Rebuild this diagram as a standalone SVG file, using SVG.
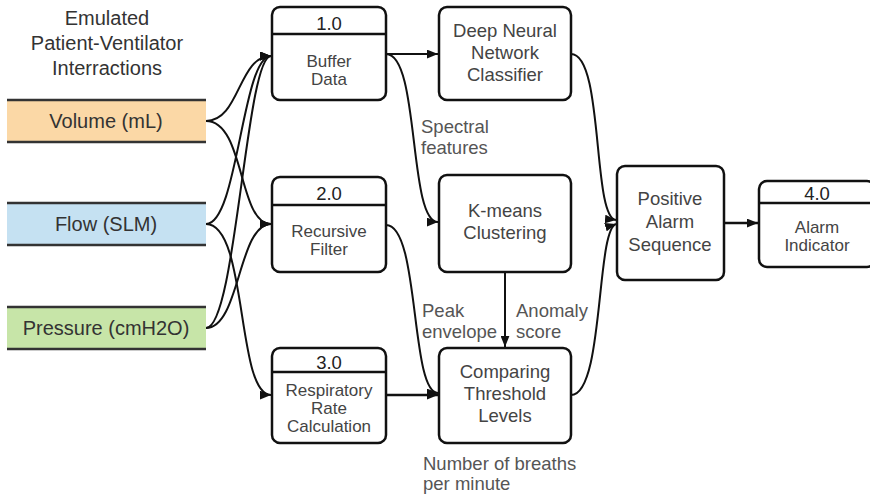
<svg xmlns="http://www.w3.org/2000/svg" width="870" height="496" viewBox="0 0 870 496">
<style>
.box{fill:#fff;stroke:#111;stroke-width:2.5}
.div{stroke:#111;stroke-width:2.5}
.t{font-family:"Liberation Sans",Arial,sans-serif;font-size:18.5px;fill:#444;text-anchor:middle}
.s{font-family:"Liberation Sans",Arial,sans-serif;font-size:17px;fill:#444;text-anchor:middle}
.n{font-family:"Liberation Sans",Arial,sans-serif;font-size:18.5px;fill:#222;text-anchor:middle}
.in{font-family:"Liberation Sans",Arial,sans-serif;font-size:20px;fill:#333;text-anchor:middle}
.lbl{font-family:"Liberation Sans",Arial,sans-serif;font-size:18.5px;fill:#555}
.edge{fill:none;stroke:#111;stroke-width:2;marker-end:url(#ah)}
.bar{stroke:#333;stroke-width:2.5}
</style>
<defs>
<marker id="ah" viewBox="0 0 10 8" refX="10" refY="4" markerWidth="11" markerHeight="9" markerUnits="userSpaceOnUse" orient="auto">
<path d="M0,0 L10,4 L0,8 z" fill="#111"/>
</marker>
</defs>
<rect width="870" height="496" fill="#fff"/>
<g id="title">
<text class="in" x="107" y="25">Emulated</text>
<text class="in" x="107" y="50">Patient-Ventilator</text>
<text class="in" x="107" y="75">Interractions</text>
</g>
<g id="volume">
<rect x="7" y="100" width="199" height="42" fill="#fbd8a6"/>
<line class="bar" x1="7" y1="100" x2="206" y2="100"/>
<line class="bar" x1="7" y1="142" x2="206" y2="142"/>
<text class="in" x="106" y="128">Volume (mL)</text>
</g>
<g id="flow">
<rect x="7" y="203" width="199" height="42" fill="#c5e1f2"/>
<line class="bar" x1="7" y1="203" x2="206" y2="203"/>
<line class="bar" x1="7" y1="245" x2="206" y2="245"/>
<text class="in" x="106" y="231">Flow (SLM)</text>
</g>
<g id="pressure">
<rect x="7" y="307" width="199" height="42" fill="#c7e5a8"/>
<line class="bar" x1="7" y1="307" x2="206" y2="307"/>
<line class="bar" x1="7" y1="349" x2="206" y2="349"/>
<text class="in" x="106" y="335">Pressure (cmH2O)</text>
</g>
<g id="connectors">
<path class="edge" d="M206,121 C240,121 238,56 271,56"/>
<path class="edge" d="M206,121 C245,121 238,224 271,224"/>
<path class="edge" d="M206,224 C238,224 242,56 271,56"/>
<path class="edge" d="M206,224 C248,224 236,395 271,395"/>
<path class="edge" d="M206,328 C236,328 246,56 271,56"/>
<path class="edge" d="M206,328 C240,328 238,224 271,224"/>
<path class="edge" d="M386,54 L438,54"/>
<path class="edge" d="M386,54 C420,54 408,222 438,222"/>
<path class="edge" d="M386,225 C420,225 410,393 438,393"/>
<path class="edge" d="M386,395 L438,395" style="stroke-width:2.5"/>
<path class="edge" d="M505,272 L505,347"/>
<path class="edge" d="M571,54 C604,54 592,218 616,220"/>
<path class="edge" d="M571,395 C604,395 596,230 616,224"/>
<path class="edge" d="M724,223 L758,223" style="stroke-width:2.5"/>
</g>
<g id="n1">
<rect class="box" x="272" y="7" width="114" height="93" rx="8"/>
<line class="div" x1="272" y1="34" x2="386" y2="34"/>
<text class="n" x="329" y="29.5">1.0</text>
<text class="s" x="329" y="67">Buffer</text>
<text class="s" x="329" y="85">Data</text>
</g>
<g id="dnn">
<rect class="box" x="439" y="7" width="132" height="93" rx="8"/>
<text class="t" x="505" y="36.5">Deep Neural</text>
<text class="t" x="505" y="58.5">Network</text>
<text class="t" x="505" y="80.5">Classifier</text>
</g>
<g id="n2">
<rect class="box" x="272" y="177" width="114" height="95" rx="8"/>
<line class="div" x1="272" y1="205" x2="386" y2="205"/>
<text class="n" x="329" y="199.5">2.0</text>
<text class="s" x="329" y="237">Recursive</text>
<text class="s" x="329" y="255">Filter</text>
</g>
<g id="kmeans">
<rect class="box" x="439" y="175" width="132" height="97" rx="8"/>
<text class="t" x="505" y="216.5">K-means</text>
<text class="t" x="505" y="238.5">Clustering</text>
</g>
<g id="n3">
<rect class="box" x="272" y="348" width="114" height="95" rx="8"/>
<line class="div" x1="272" y1="372" x2="386" y2="372"/>
<text class="n" x="329" y="368.5">3.0</text>
<text class="s" x="329" y="396">Respiratory</text>
<text class="s" x="329" y="414">Rate</text>
<text class="s" x="329" y="432">Calculation</text>
</g>
<g id="compare">
<rect class="box" x="439" y="348" width="132" height="95" rx="8"/>
<text class="t" x="505" y="378">Comparing</text>
<text class="t" x="505" y="400">Threshold</text>
<text class="t" x="505" y="422">Levels</text>
</g>
<g id="positive">
<rect class="box" x="617" y="166" width="107" height="114" rx="8"/>
<text class="t" x="670" y="204.5">Positive</text>
<text class="t" x="670" y="228">Alarm</text>
<text class="t" x="670" y="250.5">Sequence</text>
</g>
<g id="n4">
<rect class="box" x="759" y="181" width="116" height="86" rx="8"/>
<line class="div" x1="759" y1="203" x2="875" y2="203"/>
<text class="n" x="817" y="199.5">4.0</text>
<text class="s" x="817" y="233">Alarm</text>
<text class="s" x="817" y="251">Indicator</text>
</g>
<g id="labels">
<text class="lbl" x="421" y="133">Spectral</text>
<text class="lbl" x="421" y="154">features</text>
<text class="lbl" x="422" y="317">Peak</text>
<text class="lbl" x="422" y="338">envelope</text>
<text class="lbl" x="516" y="317">Anomaly</text>
<text class="lbl" x="516" y="338">score</text>
<text class="lbl" x="423" y="470">Number of breaths</text>
<text class="lbl" x="423" y="490">per minute</text>
</g>
</svg>
